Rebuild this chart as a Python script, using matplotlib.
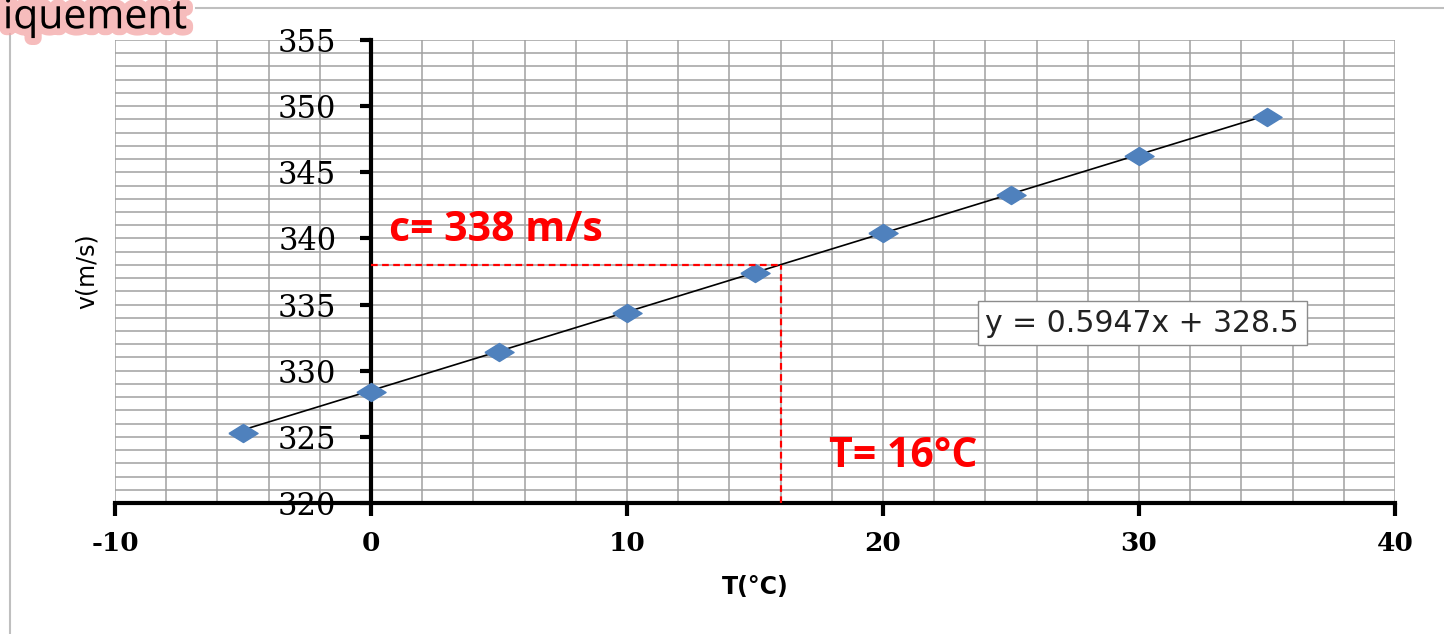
import matplotlib.pyplot as plt
import matplotlib.patheffects as pe
from matplotlib.lines import Line2D
import numpy as np

# measured points: temperature (°C) vs speed of sound (m/s)
temp_c = [-5, 0, 5, 10, 15, 20, 25, 30, 35]
speed = [325.3, 328.4, 331.4, 334.4, 337.4, 340.4, 343.3, 346.2, 349.2]

# linear fit shown in the chart
slope = 0.5947
intercept = 328.5

# reading at T = 16 °C
t_read = 16
c_read = 338

x_ticks = [-10, 0, 10, 20, 30, 40]
y_ticks = [320, 325, 330, 335, 340, 345, 350, 355]

fig = plt.figure(figsize=(14.44, 6.34), dpi=100)
ax = fig.add_axes([115 / 1444, 1 - 503 / 634, 1280 / 1444, 463 / 634])

ax.set_xlim(-10, 40)
ax.set_ylim(320, 355)

# dense grid (every 2 °C, every 1 m/s)
for gx in np.arange(-10, 41, 2):
    ax.axvline(gx, color="#a0a0a0", lw=1.1, zorder=0)
for gy in np.arange(320, 356, 1):
    ax.axhline(gy, color="#a0a0a0", lw=1.1, zorder=0)

# trend line
xs = np.array([min(temp_c), max(temp_c)])
ax.plot(xs, slope * xs + intercept, color="black", lw=1.2, zorder=3)

# diamond markers (squashed like the reference)
diamond = [(-1, 0), (0, 0.62), (1, 0), (0, -0.62), (-1, 0)]
ax.plot(temp_c, speed, linestyle="none", marker=diamond, markersize=21,
        color="#4f81bd", markeredgecolor="#4f81bd", zorder=4)

# red construction lines
ax.plot([0, t_read], [c_read, c_read], color="red", ls=(0, (3, 2)), lw=1.6, zorder=5)
ax.plot([t_read, t_read], [320, c_read], color="red", ls=(0, (3, 2)), lw=1.6, zorder=5)

ax.text(0.7, 340.6, f"c= {c_read} m/s", color="red", fontsize=29.5, fontweight="bold",
        family="Open Sans", va="center", ha="left", zorder=6)
ax.text(17.9, 323.5, f"T= {t_read}°C", color="red", fontsize=29.5, fontweight="bold",
        family="Open Sans", va="center", ha="left", zorder=6)

# equation box
ax.text(24.0, 333.6, f"y = {slope}x + {intercept}", fontsize=21.5, family="DejaVu Sans",
        color="#222222", va="center", ha="left", zorder=6,
        bbox=dict(boxstyle="square,pad=0.25", fc="white", ec="#8c8c8c", lw=1.0))

# axes: y spine at x = 0, x spine at bottom
for s in ["top", "right"]:
    ax.spines[s].set_visible(False)
ax.spines["left"].set_position(("data", 0))
ax.spines["left"].set_linewidth(3)
ax.spines["bottom"].set_linewidth(3)
ax.spines["left"].set_zorder(2)

ax.set_xticks(x_ticks)
ax.set_xticklabels([str(v) for v in x_ticks], fontsize=19, fontweight="bold",
                   family="DejaVu Serif")
ax.set_yticks(y_ticks)
ax.set_yticklabels([str(v) for v in y_ticks], fontsize=22, family="DejaVu Serif")
ax.tick_params(axis="x", length=9, width=3, pad=11)
ax.tick_params(axis="y", length=8, width=3, pad=17)

ax.set_xlabel("T(°C)", fontsize=17, fontweight="bold", labelpad=14)
ax.set_ylabel("v(m/s)", fontsize=17)
ax.yaxis.set_label_coords(-0.013, 0.5)

# outer chart frame and slide text
fig.add_artist(Line2D([10 / 1444, 10 / 1444], [0, 1 - 34 / 634], color="#bfbfbf", lw=1.5))
fig.add_artist(Line2D([196 / 1444, 1], [1 - 8 / 634, 1 - 8 / 634], color="#bfbfbf", lw=1.5))
fig.text(0.002, 1 - 18 / 634, "iquement", fontsize=29.5, family="Open Sans", va="center",
         ha="left", color="black",
         path_effects=[pe.withStroke(linewidth=10, foreground="#f4a6a6", alpha=0.75)])

fig.savefig("out.png", dpi=100)
